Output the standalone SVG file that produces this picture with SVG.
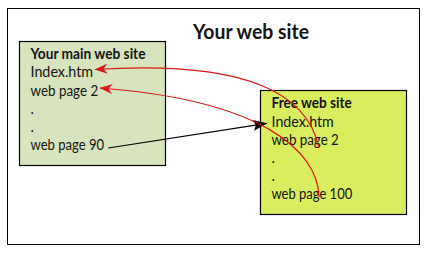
<svg xmlns="http://www.w3.org/2000/svg" width="428" height="254" viewBox="0 0 428 254">
  <defs>
    <style>
      .frame { fill: #ffffff; stroke: #000000; stroke-width: 1; }
      .box { stroke: #000000; stroke-width: 1.2; }
      .main { fill: #d7e4bd; }
      .free { fill: #d9ed5f; }
      text { font-family: "Lato", "Liberation Sans", sans-serif; fill: #141414; }
      .title { font-size: 20px; font-weight: bold; }
      .head { font-size: 14.5px; font-weight: bold; }
      .item { font-size: 14.5px; }
      .link { fill: none; stroke: #d81818; stroke-width: 1.2; }
      .move { fill: none; stroke: #000000; stroke-width: 1.2; }
    </style>
    <marker id="redHead" markerUnits="userSpaceOnUse" markerWidth="13" markerHeight="11" viewBox="0 0 13 11" refX="12.5" refY="5.5" orient="auto">
      <path d="M0,0.5 L13,5.5 L0,10.5 L4,5.5 z" fill="#d81818"/>
    </marker>
    <marker id="blackHead" markerUnits="userSpaceOnUse" markerWidth="14" markerHeight="12" viewBox="0 0 14 12" refX="13.5" refY="6" orient="auto">
      <path d="M0,0.5 L14,6 L0,11.5 L2.5,6 z" fill="#000000"/>
    </marker>
  </defs>

  <rect class="frame" x="7.5" y="8.5" width="412" height="236"/>
  <text class="title" x="193" y="39" textLength="116" lengthAdjust="spacingAndGlyphs">Your web site</text>

  <g id="main-site">
    <rect class="box main" x="19.5" y="41.5" width="146" height="124"/>
    <text class="head" x="30.5" y="59.3" textLength="115" lengthAdjust="spacingAndGlyphs">Your main web site</text>
    <text class="item" x="30.5" y="77.4" textLength="62.6" lengthAdjust="spacingAndGlyphs">Index.htm</text>
    <text class="item" x="30.5" y="95.5" textLength="67.7" lengthAdjust="spacingAndGlyphs">web page 2</text>
    <text class="item" x="30.5" y="113.5">.</text>
    <text class="item" x="30.5" y="131.6">.</text>
    <text class="item" x="30.5" y="149.7" textLength="73.7" lengthAdjust="spacingAndGlyphs">web page 90</text>
  </g>

  <g id="free-site">
    <rect class="box free" x="260.5" y="90.5" width="146" height="124"/>
    <text class="head" x="271.5" y="108.3" textLength="80.3" lengthAdjust="spacingAndGlyphs">Free web site</text>
    <text class="item" x="271.5" y="126.5" textLength="62.3" lengthAdjust="spacingAndGlyphs">Index.htm</text>
    <text class="item" x="271.5" y="144.7" textLength="67.3" lengthAdjust="spacingAndGlyphs">web page 2</text>
    <text class="item" x="271.5" y="162.8">.</text>
    <text class="item" x="271.5" y="181">.</text>
    <text class="item" x="271.5" y="199.1" textLength="80.7" lengthAdjust="spacingAndGlyphs">web page 100</text>
  </g>

  <g id="connectors">
    <path class="move" d="M108.3,148 L266.7,123.3" marker-end="url(#blackHead)"/>
    <path class="link" d="M319,148 C308,95 250,60 95,69.5" marker-end="url(#redHead)"/>
    <path class="link" d="M319,197 C318,150 260,100 100,88" marker-end="url(#redHead)"/>
  </g>
</svg>
